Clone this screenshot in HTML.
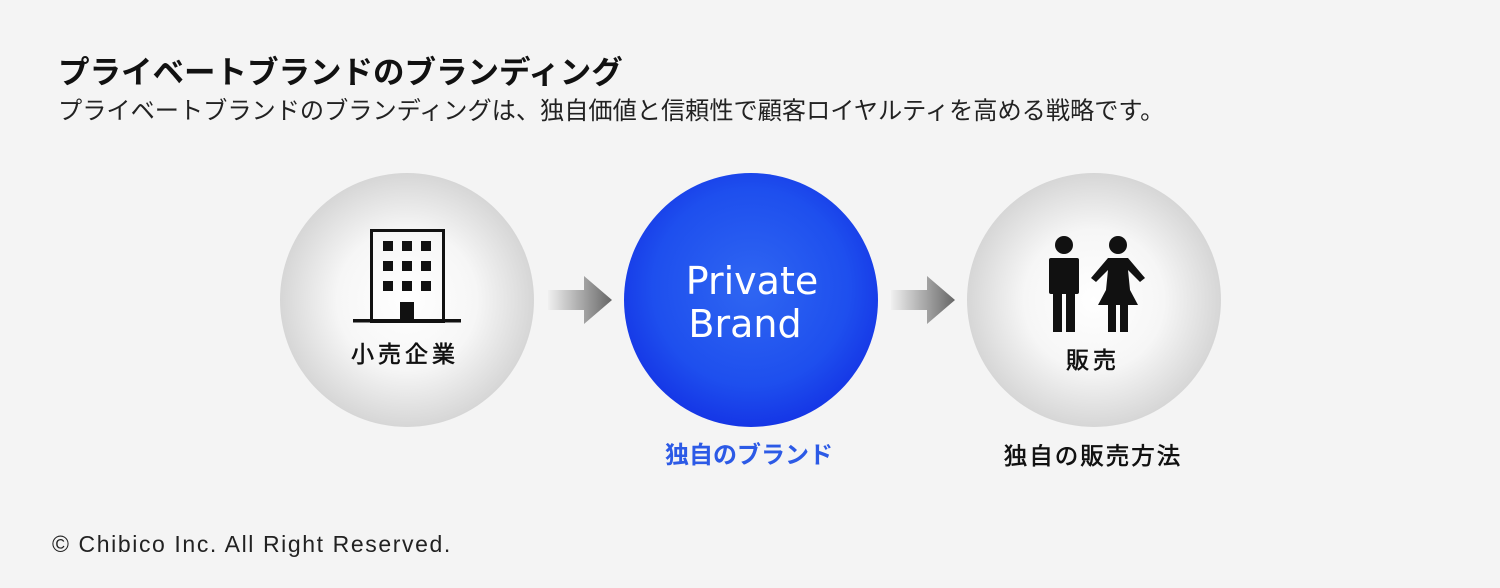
<!DOCTYPE html>
<html><head><meta charset="utf-8"><style>
body{margin:0;width:1500px;height:588px;background:#f4f4f4;overflow:hidden;font-family:"Liberation Sans","Noto Sans CJK JP",sans-serif;}
</style></head><body>
<svg width="1500" height="588" xmlns="http://www.w3.org/2000/svg" style="position:absolute;left:0;top:0">
<defs>
<radialGradient id="g" cx="50%" cy="50%" r="50%"><stop offset="0" stop-color="#fff"/><stop offset="0.55" stop-color="#f6f6f6"/><stop offset="1" stop-color="#d6d6d6"/></radialGradient>
<radialGradient id="b" cx="50%" cy="45%" r="55%"><stop offset="0" stop-color="#2f66f2"/><stop offset="0.7" stop-color="#1e4fee"/><stop offset="1" stop-color="#1536e6"/></radialGradient>
<linearGradient id="a" x1="0" x2="1"><stop offset="0" stop-color="#f0f0f0"/><stop offset="1" stop-color="#666"/></linearGradient>
</defs>
<text x="58" y="83" font-size="31.5" font-weight="bold" fill="#111" font-family="Liberation Sans,Noto Sans CJK JP,sans-serif">プライベートブランドのブランディング</text>
<text x="58" y="119" font-size="24.2" fill="#222" font-family="Liberation Sans,Noto Sans CJK JP,sans-serif">プライベートブランドのブランディングは、独自価値と信頼性で顧客ロイヤルティを高める戦略です。</text>
<circle cx="407" cy="300" r="127" fill="url(#g)"/>
<circle cx="751" cy="300" r="127" fill="url(#b)"/>
<circle cx="1094" cy="300" r="127" fill="url(#g)"/>
<path d="M548 290 H584 V276 L612 300 L584 324 V310 H548 Z" fill="url(#a)"/>
<path d="M891 290 H927 V276 L955 300 L927 324 V310 H891 Z" fill="url(#a)"/>
<rect x="371.5" y="230.5" width="72" height="91" fill="none" stroke="#111" stroke-width="3"/>
<g fill="#111">
<rect x="383" y="241" width="10" height="10"/><rect x="402" y="241" width="10" height="10"/><rect x="421" y="241" width="10" height="10"/>
<rect x="383" y="261" width="10" height="10"/><rect x="402" y="261" width="10" height="10"/><rect x="421" y="261" width="10" height="10"/>
<rect x="383" y="281" width="10" height="10"/><rect x="402" y="281" width="10" height="10"/><rect x="421" y="281" width="10" height="10"/>
<rect x="400" y="302" width="14" height="20"/>
<rect x="353" y="319" width="108" height="3.5"/>
</g>
<g stroke="#111" stroke-width="0.6" fill="#111" font-family="Liberation Sans,Noto Sans CJK JP,sans-serif">
<text x="405" y="362" font-size="23" text-anchor="middle" letter-spacing="4">小売企業</text>
<text x="1093" y="368" font-size="23" text-anchor="middle" letter-spacing="4">販売</text>
<text x="1093" y="464" font-size="23.5" text-anchor="middle" letter-spacing="2">独自の販売方法</text>
</g>
<text x="752" y="294" font-size="38" text-anchor="middle" fill="#fff" font-family="DejaVu Sans,sans-serif">Private</text>
<text x="745" y="337" font-size="38" text-anchor="middle" fill="#fff" font-family="DejaVu Sans,sans-serif">Brand</text>
<text x="749" y="463" font-size="24" font-weight="bold" text-anchor="middle" fill="#2c5ae6" font-family="Liberation Sans,Noto Sans CJK JP,sans-serif">独自のブランド</text>
<g fill="#111">
<circle cx="1064" cy="245" r="9"/>
<rect x="1049" y="258" width="30" height="36" rx="2"/>
<rect x="1053" y="292" width="9" height="40"/><rect x="1066" y="292" width="9" height="40"/>
<circle cx="1118" cy="245" r="9"/>
<path d="M1108 258 H1128 L1145 278 L1140 282 L1128 270 L1130 290 L1138 305 H1098 L1106 290 L1108 270 L1096 282 L1091 278 Z"/>
<rect x="1108" y="303" width="8" height="29"/><rect x="1120" y="303" width="8" height="29"/>
</g>
<text x="52" y="552" font-size="23" fill="#222" letter-spacing="1.6" font-family="Liberation Sans,sans-serif">© Chibico Inc. All Right Reserved.</text>
</svg>
</body></html>
